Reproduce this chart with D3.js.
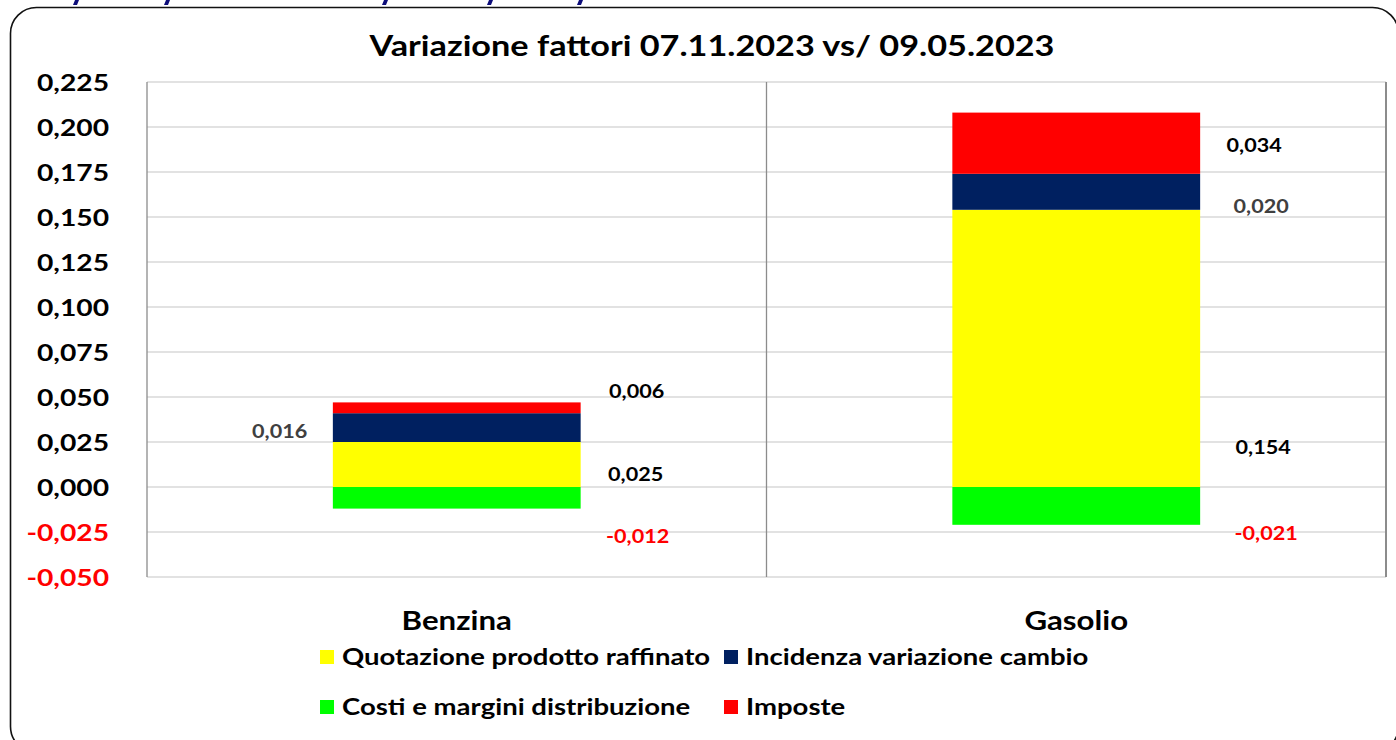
<!DOCTYPE html>
<html>
<head>
<meta charset="utf-8">
<script src="https://cdn.jsdelivr.net/npm/d3@7"></script>
<style>
  body { margin: 0; background: #fff; }
  text { font-family: Lato, "Open Sans", sans-serif; font-weight: bold; }
</style>
</head>
<body>
<div id="chart"></div>
<script>
var svgWidth = 1396;
var svgHeight = 740;

// data
var categories = ["Benzina", "Gasolio"];
var quotazione = [0.025, 0.154];
var cambio     = [0.016, 0.020];
var costi      = [-0.012, -0.021];
var imposte    = [0.006, 0.034];
var seriesNames = ["Quotazione prodotto raffinato", "Incidenza variazione cambio", "Costi e margini distribuzione", "Imposte"];
var yTicks = [-0.050, -0.025, 0.000, 0.025, 0.050, 0.075, 0.100, 0.125, 0.150, 0.175, 0.200, 0.225];
var titleText = "Variazione fattori 07.11.2023 vs/ 09.05.2023";

var keys = ["quotazione", "cambio", "costi", "imposte"];
var colors = { quotazione: "#ffff00", cambio: "#002060", costi: "#00ff00", imposte: "#ff0000" };

// manual label nudges (Excel-style hand placed labels), px from segment
var labelNudge = {
    Benzina: { quotazione: [55, 10], cambio: [-301, 4], costi: [57, 39], imposte: [56, -16] },
    Gasolio: { quotazione: [63, 99], cambio: [61, 15], costi: [66, 28], imposte: [54, 2] }
};

var STRETCH = 1.2;

var margin = { top: 82, right: 10, bottom: 163, left: 147 };
var chartWidth = svgWidth - margin.left - margin.right;
var chartHeight = svgHeight - margin.top - margin.bottom;

var locale = d3.formatLocale({ decimal: ",", thousands: ".", grouping: [3], currency: ["", "€"], minus: "-" });
var fmt = locale.format(".3f");

function stretch(sel, k) {
    sel.each(function() {
        var w = this.getComputedTextLength();
        d3.select(this)
            .attr("textLength", w * k)
            .attr("lengthAdjust", "spacingAndGlyphs");
    });
}

var table = categories.map(function(c, i) {
    return { cat: c, quotazione: quotazione[i], cambio: cambio[i], costi: costi[i], imposte: imposte[i] };
});

var svg = d3.select("#chart")
    .append("svg")
    .attr("width", svgWidth)
    .attr("height", svgHeight);

// outer rounded frame
svg.append("rect")
    .attr("x", 10.5)
    .attr("y", 7.5)
    .attr("width", 1388)
    .attr("height", 745)
    .attr("rx", 26)
    .attr("fill", "none")
    .attr("stroke", "#111")
    .attr("stroke-width", 1.6);

// bits of the blue heading above the frame
[76, 167, 385, 490, 580].forEach(function(x) {
    svg.append("path")
        .attr("d", "M" + (x - 1) + ",0 L" + (x + 3) + ",0 L" + (x + 1) + ",5 L" + (x - 3) + ",5 Z")
        .attr("fill", "#0d0d7a");
});

svg.append("text")
    .attr("x", 712)
    .attr("y", 56)
    .attr("text-anchor", "middle")
    .attr("font-size", 28)
    .attr("fill", "#000")
    .attr("textLength", 685)
    .attr("lengthAdjust", "spacingAndGlyphs")
    .text(titleText);

var chartGroup = svg.append("g")
    .attr("transform", `translate(${margin.left}, ${margin.top})`);

var xScale = d3.scaleBand()
    .domain(categories)
    .range([0, chartWidth])
    .padding(0);

var yScale = d3.scaleLinear()
    .domain([-0.05, 0.225])
    .range([chartHeight, 0]);

// horizontal gridlines
chartGroup.append("g")
    .selectAll("line")
    .data(yTicks)
    .enter()
    .append("line")
    .attr("x1", 0)
    .attr("x2", chartWidth)
    .attr("y1", d => yScale(d))
    .attr("y2", d => yScale(d))
    .attr("stroke", "#d9d9d9")
    .attr("stroke-width", 1.6);

// vertical category dividers
var dividers = [0].concat(categories.map(c => xScale(c) + xScale.bandwidth()));
chartGroup.append("g")
    .selectAll("line")
    .data(dividers)
    .enter()
    .append("line")
    .attr("x1", d => d)
    .attr("x2", d => d)
    .attr("y1", yScale(0.225))
    .attr("y2", yScale(-0.05))
    .attr("stroke", "#8c8c8c")
    .attr("stroke-width", (d, i) => i === dividers.length - 1 ? 2 : 1.3);

// y axis labels
var leftAxis = d3.axisLeft(yScale)
    .tickValues(yTicks)
    .tickFormat(fmt)
    .tickSize(0)
    .tickPadding(38);

var yAxis = chartGroup.append("g").call(leftAxis);
yAxis.select(".domain").remove();
yAxis.selectAll("text")
    .attr("font-family", "Lato, 'Open Sans', sans-serif")
    .attr("font-size", 23.5)
    .attr("font-weight", "bold")
    .attr("dy", "0.36em")
    .attr("fill", d => d < 0 ? "#ff0000" : "#000")
    .call(stretch, STRETCH);

// stacked bars
var stack = d3.stack().keys(keys).offset(d3.stackOffsetDiverging);
var layers = stack(table);

var barRatio = 0.4;
var barW = xScale.bandwidth() * barRatio;
var barX = c => xScale(c) + (xScale.bandwidth() - barW) / 2;

var layerGroups = chartGroup.selectAll("g.layer")
    .data(layers)
    .enter()
    .append("g")
    .attr("class", "layer")
    .attr("fill", d => colors[d.key]);

layerGroups.selectAll("rect")
    .data(d => d)
    .enter()
    .append("rect")
    .attr("x", d => barX(d.data.cat))
    .attr("width", barW)
    .attr("y", d => yScale(d[1]))
    .attr("height", d => yScale(d[0]) - yScale(d[1]));

// value labels
layers.forEach(function(layer) {
    layer.forEach(function(seg) {
        var cat = seg.data.cat;
        var v = seg.data[layer.key];
        var nudge = labelNudge[cat][layer.key];
        var midY = (yScale(seg[0]) + yScale(seg[1])) / 2;
        chartGroup.append("text")
            .attr("x", barX(cat) + barW + nudge[0])
            .attr("y", midY + nudge[1])
            .attr("dy", "0.36em")
            .attr("text-anchor", "middle")
            .attr("font-size", 18)
            .attr("fill", v < 0 ? "#ff0000" : (layer.key === "cambio" ? "#404040" : "#000"))
            .text(fmt(v))
            .call(stretch, STRETCH);
    });
});

// category labels
chartGroup.append("g")
    .selectAll("text")
    .data(categories)
    .enter()
    .append("text")
    .attr("x", d => xScale(d) + xScale.bandwidth() / 2)
    .attr("y", chartHeight + 44)
    .attr("dy", "0.36em")
    .attr("text-anchor", "middle")
    .attr("font-size", 26)
    .attr("fill", "#000")
    .text(d => d)
    .call(stretch, STRETCH);

// legend
var legendItems = [
    { key: "quotazione", name: seriesNames[0], col: 0, row: 0 },
    { key: "cambio", name: seriesNames[1], col: 1, row: 0 },
    { key: "costi", name: seriesNames[2], col: 0, row: 1 },
    { key: "imposte", name: seriesNames[3], col: 1, row: 1 }
];
var legendX = [320, 724];
var legendY = [657, 707];

var legend = svg.append("g")
    .selectAll("g")
    .data(legendItems)
    .enter()
    .append("g")
    .attr("transform", d => `translate(${legendX[d.col]}, ${legendY[d.row]})`);

legend.append("rect")
    .attr("x", 0)
    .attr("y", -7)
    .attr("width", 14)
    .attr("height", 14)
    .attr("fill", d => colors[d.key]);

legend.append("text")
    .attr("x", 22)
    .attr("y", 0)
    .attr("dy", "0.36em")
    .attr("font-size", 22)
    .attr("fill", "#000")
    .text(d => d.name)
    .call(stretch, 1.25);
</script>
</body>
</html>
